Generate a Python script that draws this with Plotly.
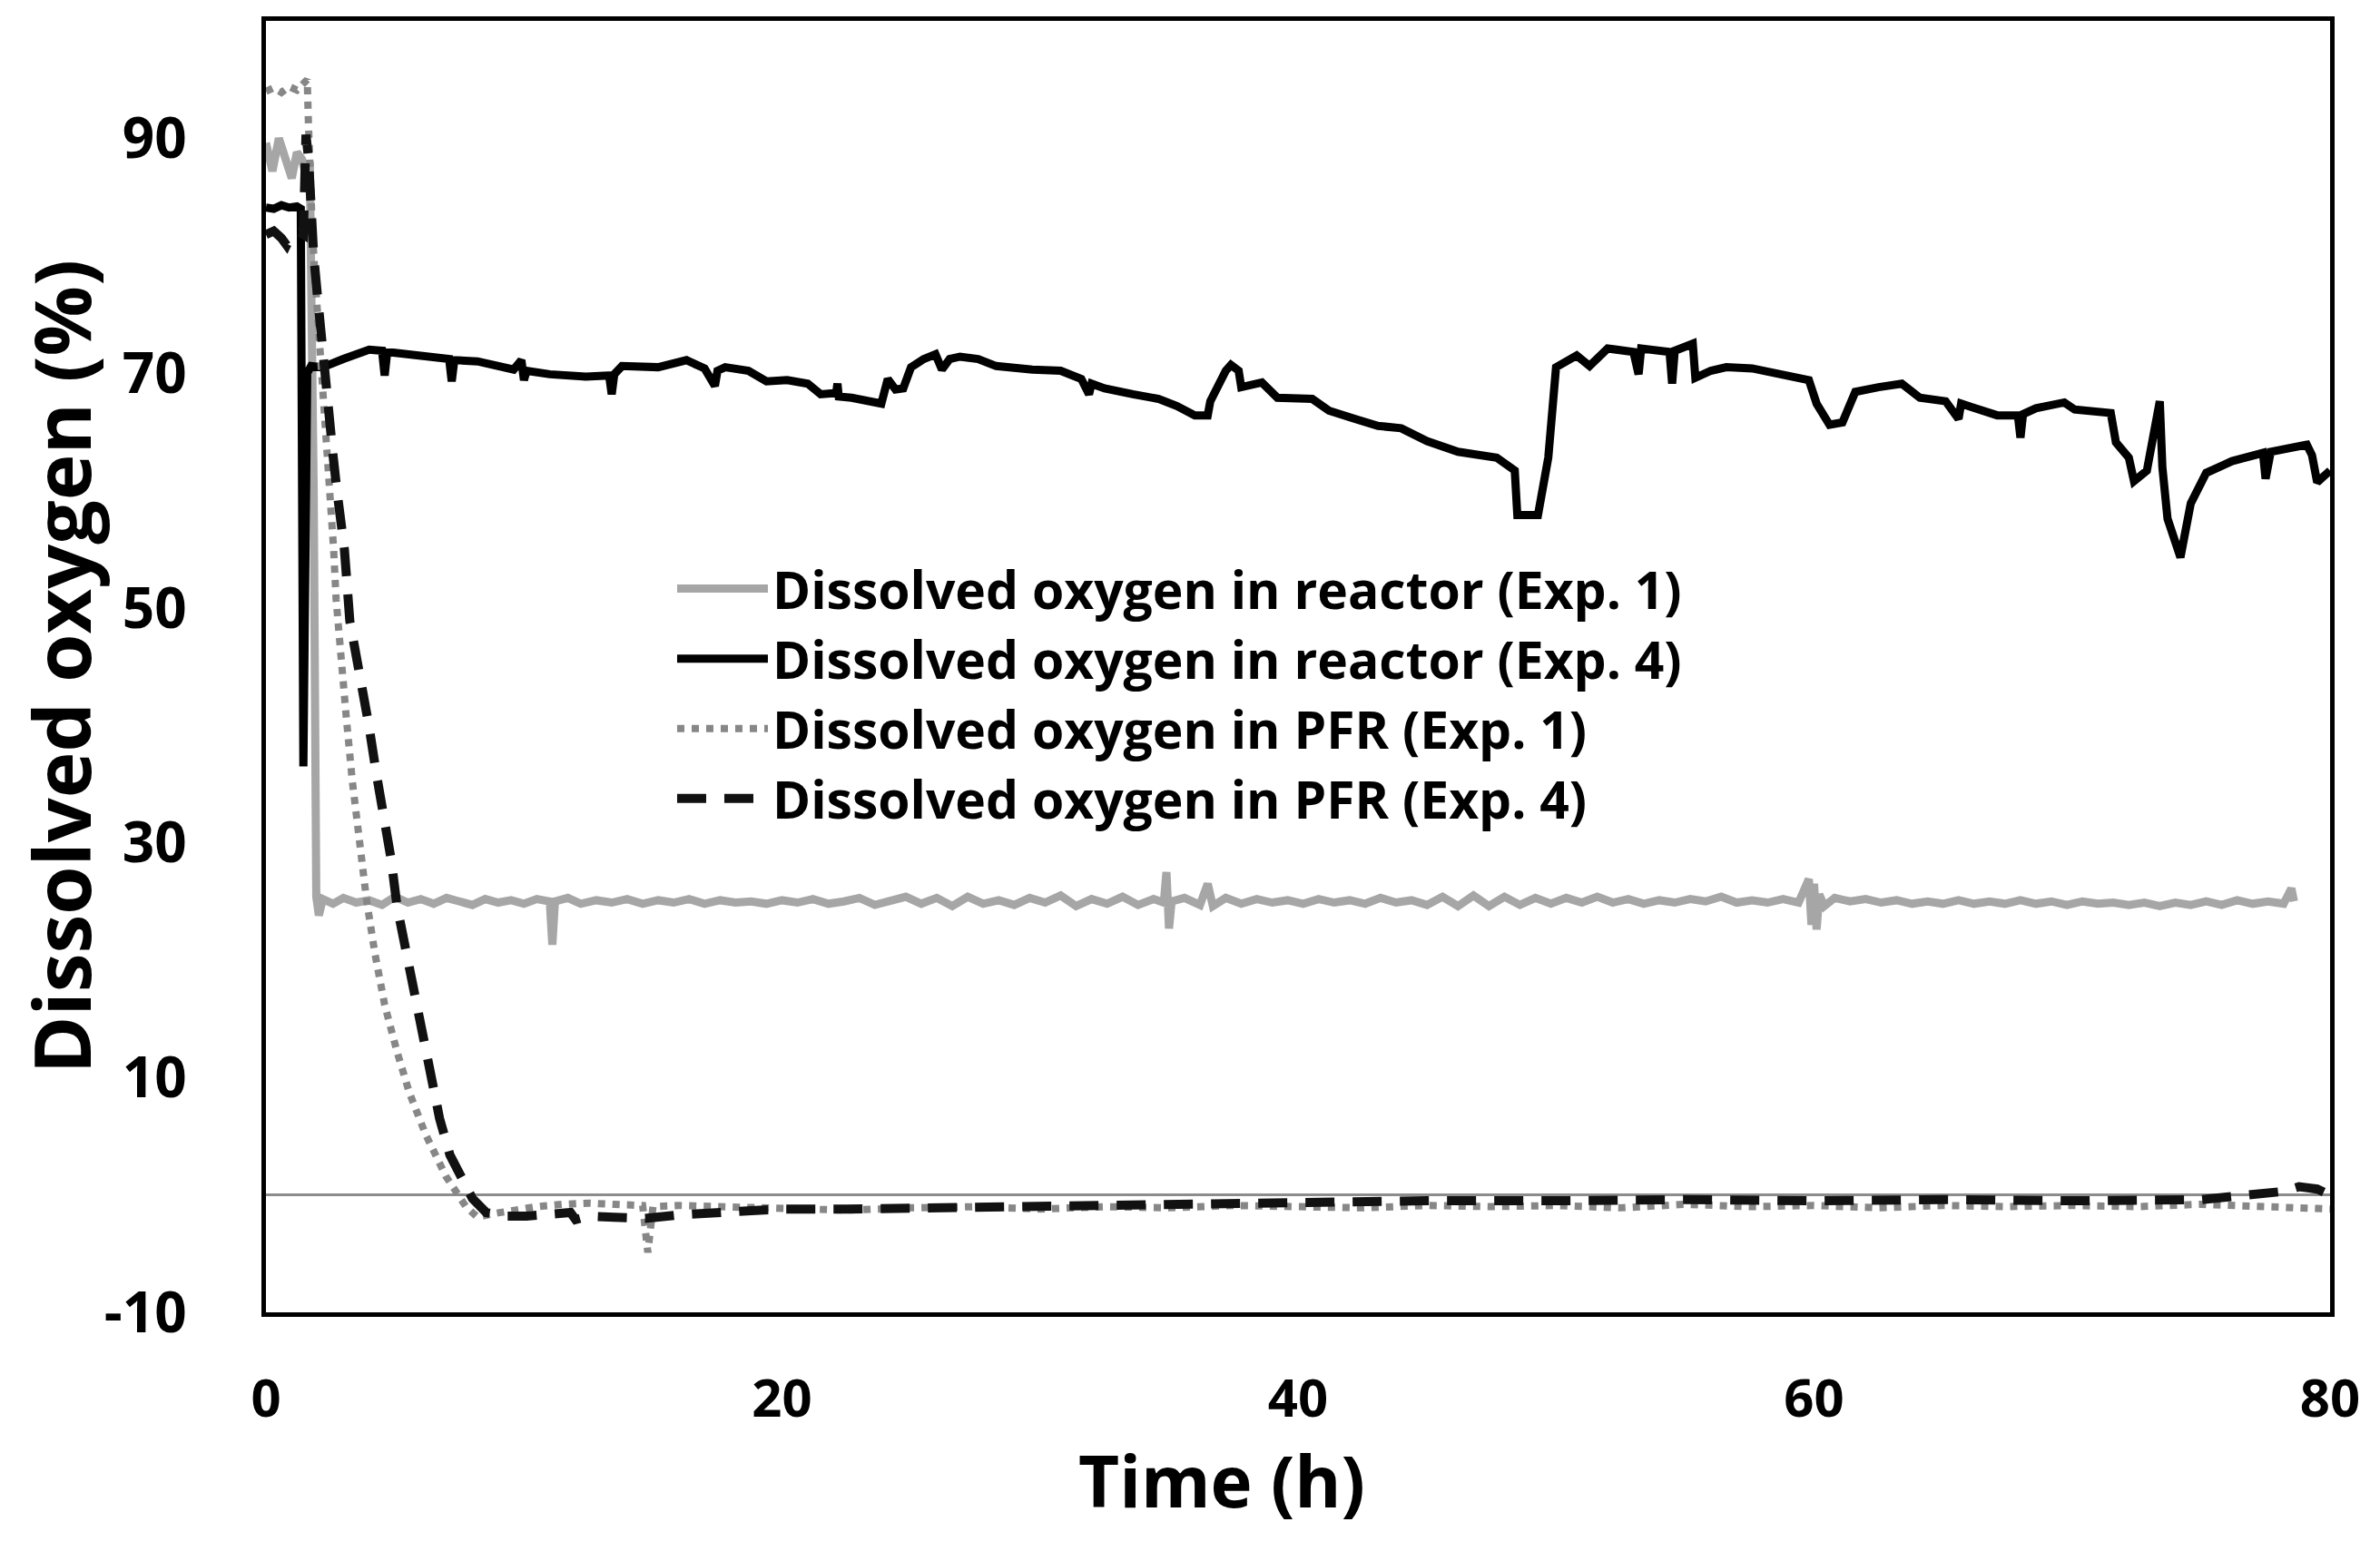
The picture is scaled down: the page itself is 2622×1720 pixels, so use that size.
import plotly.graph_objects as go

# ---------------- data ----------------
# Dissolved oxygen in reactor (Exp. 1)
r1_t = [0, 0.25, 0.5, 0.75, 1.0, 1.2, 1.4, 1.55, 1.7, 1.85, 1.95, 2.05, 2.2, 2.6, 3.0, 3.5, 4.0, 4.5,
        5.0, 5.5, 6.0, 6.5, 7.0, 7.5, 8.0, 8.5, 9.0, 9.5, 10.0, 10.5, 11.0, 11.1, 11.2, 11.7, 12.2,
        12.8, 13.4, 14.0, 14.6, 15.2, 15.8, 16.4, 17.0, 17.6, 18.2, 18.8, 19.4, 20.0, 20.6, 21.2,
        21.8, 22.4, 23.0, 23.6, 24.2, 24.8, 25.4, 26.0, 26.6, 27.2, 27.8, 28.4, 29.0, 29.6, 30.2,
        30.8, 31.4, 32.0, 32.6, 33.2, 33.8, 34.4, 34.8, 34.9, 35.0, 35.1, 35.6, 36.2, 36.5, 36.7,
        37.2, 37.8, 38.4, 39.0, 39.6, 40.2, 40.8, 41.4, 42.0, 42.6, 43.2, 43.8, 44.4, 45.0, 45.6,
        46.2, 46.8, 47.4, 48.0, 48.6, 49.2, 49.8, 50.4, 51.0, 51.6, 52.2, 52.8, 53.4, 54.0, 54.6,
        55.2, 55.8, 56.4, 57.0, 57.6, 58.2, 58.8, 59.4, 59.8, 59.9, 60.0, 60.1, 60.2, 60.4, 60.8,
        61.4, 62.0, 62.6, 63.2, 63.8, 64.4, 65.0, 65.6, 66.2, 66.8, 67.4, 68.0, 68.6, 69.2, 69.8,
        70.4, 71.0, 71.6, 72.2, 72.8, 73.4, 74.0, 74.6, 75.2, 75.8, 76.4, 77.0, 77.6, 78.2, 78.5,
        78.6]
r1_v = [89.6, 87.2, 90.0, 88.3, 86.6, 88.8, 88.2, 86.8, 88.0, 60.0, 25.4, 23.8, 25.2, 24.8, 25.3,
        24.9, 25.1, 24.7, 25.4, 24.9, 25.2, 24.8, 25.3, 25.0, 24.7, 25.2, 24.9, 25.1, 24.8, 25.2,
        25.0, 21.3, 25.0, 25.3, 24.8, 25.1, 24.9, 25.2, 24.8, 25.1, 24.9, 25.2, 24.8, 25.1, 24.9,
        25.0, 24.8, 25.1, 24.9, 25.2, 24.8, 25.0, 25.3, 24.7, 25.1, 25.4, 24.8, 25.3, 24.6, 25.4,
        24.8, 25.1, 24.7, 25.3, 24.9, 25.5, 24.6, 25.2, 24.8, 25.4, 24.7, 25.2, 24.9, 27.5, 22.7,
        25.0, 25.3, 24.7, 26.5, 24.6, 25.3, 24.8, 25.2, 24.9, 25.1, 24.8, 25.2, 24.9, 25.1, 24.8,
        25.3, 24.9, 25.1, 24.7, 25.4, 24.6, 25.5, 24.6, 25.4, 24.7, 25.3, 24.8, 25.3, 24.9, 25.4,
        24.9, 25.2, 24.8, 25.1, 24.9, 25.2, 25.0, 25.4, 24.9, 25.1, 24.9, 25.2, 24.9, 26.9, 23.0,
        26.5, 22.6, 25.6, 24.6, 25.3, 25.0, 25.2, 24.9, 25.1, 24.8, 25.0, 24.8, 25.1, 24.8, 25.0,
        24.8, 25.1, 24.8, 25.0, 24.7, 25.0, 24.8, 24.9, 24.7, 24.9, 24.6, 24.9, 24.7, 25.0, 24.7,
        25.1, 24.8, 25.0, 24.8, 26.1, 25.0]

# Dissolved oxygen in reactor (Exp. 4)
r4_t = [0, 0.3, 0.6, 0.9, 1.2, 1.35, 1.45, 1.6, 1.75, 2.2, 3.0, 4.0, 4.5, 4.6, 4.7, 5.5, 6.5, 7.1,
        7.2, 7.3, 8.2, 9.0, 9.6, 9.9, 10.0, 10.1, 11.0, 12.4, 13.3, 13.4, 13.5, 13.8, 15.2, 16.3,
        17.0, 17.4, 17.5, 17.8, 18.7, 19.4, 20.2, 21.0, 21.5, 22.1, 22.15, 22.2, 22.7, 23.85, 24.1,
        24.4, 24.7, 25.0, 25.5, 25.95, 26.2, 26.5, 26.9, 27.6, 28.3, 29.7, 30.8, 31.6, 31.9, 32.0,
        32.5, 33.6, 34.6, 35.3, 36.0, 36.5, 36.6, 37.2, 37.4, 37.7, 37.8, 38.6, 39.2, 40.55, 41.2,
        42.2, 43.1, 44.0, 45.0, 46.2, 47.7, 48.4, 48.5, 49.3, 49.7, 50.0, 50.8, 51.3, 52.0, 53.0,
        53.2, 53.3, 54.4, 54.5, 54.6, 55.3, 55.4, 56.0, 56.6, 57.6, 58.5, 59.8, 60.1, 60.6, 61.1,
        61.6, 62.5, 63.4, 64.1, 65.1, 65.6, 65.7, 66.1, 67.1, 67.9, 68.0, 68.1, 68.6, 69.7, 70.1,
        71.5, 71.7, 72.2, 72.4, 72.9, 73.2, 73.4, 73.5, 73.7, 74.2, 74.6, 75.2, 76.2, 77.4, 77.5,
        77.7, 79.1, 79.3, 79.5, 80.0]
r4_v = [84.1, 84.0, 84.3, 84.1, 84.2, 84.0, 36.5, 70.0, 70.6, 70.5, 71.2, 72.0, 71.9, 69.8, 71.8,
        71.6, 71.4, 71.2, 69.3, 71.1, 71.0, 70.6, 70.3, 71.1, 69.4, 70.2, 69.9, 69.7, 69.8, 68.2,
        69.9, 70.6, 70.5, 71.1, 70.4, 68.9, 70.2, 70.5, 70.2, 69.3, 69.4, 69.1, 68.2, 68.3, 69.1,
        68.0, 67.9, 67.4, 69.5, 68.6, 68.7, 70.5, 71.2, 71.6, 70.3, 71.2, 71.4, 71.2, 70.6, 70.3,
        70.2, 69.5, 68.2, 69.1, 68.7, 68.2, 67.8, 67.2, 66.4, 66.4, 67.6, 70.2, 70.7, 70.2, 68.8,
        69.2, 67.9, 67.8, 66.8, 66.1, 65.5, 65.3, 64.2, 63.3, 62.8, 61.7, 57.9, 57.9, 62.8, 70.5,
        71.5, 70.6, 72.1, 71.8, 69.9, 72.1, 71.8, 69.1, 71.9, 72.5, 69.6, 70.2, 70.5, 70.4, 70.0,
        69.4, 67.4, 65.6, 65.8, 68.4, 68.8, 69.1, 67.9, 67.6, 66.1, 67.4, 67.1, 66.4, 66.4, 64.5,
        66.5, 67.0, 67.5, 66.9, 66.6, 64.1, 62.8, 60.8, 61.7, 65.6, 67.6, 62.0, 57.6, 54.3, 58.9,
        61.5, 62.5, 63.2, 61.0, 63.3, 63.9, 63.0, 60.7, 61.7]

# Dissolved oxygen in PFR (Exp. 1)
p1_t = [0, 0.3, 0.6, 0.9, 1.2, 1.45, 1.6, 1.65, 1.7, 1.75, 1.8, 1.9, 2.0, 2.1, 2.2, 2.3, 2.38,
        2.45, 2.55, 2.62, 2.72, 2.88, 3.12, 3.35, 3.59, 3.9, 4.22, 4.6, 5.08, 5.56, 6.18, 6.97,
        7.75, 8.2, 8.8, 9.5, 10.5, 11.5, 12.5, 13.5, 14.6, 14.8, 15.0, 16.0, 18.0, 20.0, 22.5,
        25.0, 27.5, 30.0, 32.5, 35.0, 37.5, 40.0, 42.5, 45.0, 47.5, 50.0, 52.5, 55.0, 57.5, 60.0,
        62.5, 65.0, 67.5, 70.0, 72.5, 75.0, 77.5, 80.0]
p1_v = [94.0, 94.3, 93.9, 94.4, 94.1, 94.6, 95.0, 91.0, 87.0, 84.0, 82.0, 78.3, 75.3, 72.1, 68.8,
        66.5, 63.2, 60.3, 58.0, 55.1, 50.7, 46.2, 40.5, 35.2, 30.3, 25.1, 20.6, 16.2, 12.2, 8.7,
        5.2, 1.6, -1.0, -1.9, -1.6, -1.3, -1.0, -0.8, -0.7, -0.8, -0.9, -4.9, -1.0, -0.9, -1.0,
        -1.2, -1.3, -1.1, -1.0, -1.2, -1.0, -1.1, -0.9, -1.0, -1.1, -0.9, -1.0, -0.9, -1.1, -0.8,
        -1.0, -0.9, -1.1, -0.9, -1.0, -0.9, -1.0, -0.8, -1.0, -1.2]

# Dissolved oxygen in PFR (Exp. 4)
p4_t = [0, 0.3, 0.6, 0.8, 1.0, 1.3, 1.45, 1.55, 1.65, 1.7, 1.75, 1.85, 2.0, 2.1, 2.25, 2.45, 2.6,
        2.75, 2.9, 3.04, 3.25, 3.67, 3.98, 4.3, 4.6, 4.85, 5.08, 5.4, 5.7, 6.02, 6.33, 6.73, 7.13,
        7.6, 8.0, 8.54, 9.3, 10.1, 11.0, 11.8, 12.0, 12.5, 13.5, 14.7, 16.0, 18.0, 20.0, 22.5,
        25.4, 28.0, 30.8, 33.5, 36.2, 40.7, 45.0, 50.0, 55.0, 60.0, 65.0, 70.0, 75.0, 78.2, 78.8,
        79.5, 80.0]
p4_v = [81.8, 82.1, 81.5, 80.9, 81.8, 82.0, 81.8, 90.3, 88.3, 86.0, 83.5, 80.0, 76.5, 74.0, 70.0,
        66.0, 63.0, 60.0, 57.4, 55.0, 48.9, 44.0, 40.1, 35.6, 32.1, 28.6, 24.6, 21.1, 17.1, 13.6,
        10.0, 6.5, 3.4, 1.2, -0.3, -1.5, -1.8, -1.8, -1.6, -1.5, -2.1, -1.8, -1.9, -2.0, -1.7,
        -1.5, -1.2, -1.2, -1.1, -1.0, -0.9, -0.8, -0.7, -0.6, -0.5, -0.5, -0.4, -0.5, -0.4, -0.5,
        -0.4, 0.3, 0.7, 0.5, 0.0]

names = ["Dissolved oxygen in reactor (Exp. 1)",
         "Dissolved oxygen in reactor (Exp. 4)",
         "Dissolved oxygen in PFR (Exp. 1)",
         "Dissolved oxygen in PFR (Exp. 4)"]

x_ticks = [0, 20, 40, 60, 80]
y_ticks = [-10, 10, 30, 50, 70, 90]
x_title = "Time (h)"
y_title = "Dissolved oxygen (%)"

# ---------------- figure ----------------
fig = go.Figure()
fig.add_trace(go.Scatter(x=r1_t, y=r1_v, mode="lines", name=names[0], legendgroup="a",
                         line=dict(color="#a6a6a6", width=9)))
fig.add_trace(go.Scatter(x=r4_t, y=r4_v, mode="lines", name=names[1], legendgroup="b",
                         line=dict(color="#000000", width=9)))
fig.add_trace(go.Scatter(x=p1_t, y=p1_v, mode="lines", name=names[2], legendgroup="c",
                         line=dict(color="#878787", width=8, dash="dot")))
fig.add_trace(go.Scatter(x=p4_t, y=p4_v, mode="lines", name=names[3], legendgroup="d",
                         line=dict(color="#111111", width=10, dash="32px,20px")))

fig.update_layout(
    width=2622, height=1720,
    paper_bgcolor="white", plot_bgcolor="white",
    margin=dict(l=285, r=63, t=15, b=282),
    font=dict(family="Open Sans", color="black"),
    showlegend=True,
    legend=dict(x=0.197, y=0.591, xanchor="left", yanchor="top",
                bgcolor="rgba(0,0,0,0)", borderwidth=0,
                font=dict(family="Open Sans", size=57, color="black", weight="bold"),
                itemwidth=100, tracegroupgap=4, traceorder="normal"),
    annotations=[dict(text=x_title, xref="paper", yref="paper", x=0.463, y=-0.13,
                      xanchor="center", yanchor="middle", showarrow=False,
                      font=dict(family="Open Sans", size=78, weight="bold", color="black"))],
)

fig.update_xaxes(
    range=[0, 80], tickvals=x_ticks, ticktext=[str(v) for v in x_ticks],
    showline=True, linewidth=5, linecolor="black", mirror=True,
    showgrid=False, zeroline=False, ticks="", automargin=False,
    ticklabelstandoff=40,
    tickfont=dict(family="Open Sans", size=58, weight="bold"),
)
fig.update_yaxes(
    range=[-10, 100], tickvals=y_ticks, ticktext=[str(v) for v in y_ticks],
    showline=True, linewidth=5, linecolor="black", mirror=True,
    showgrid=False, zeroline=True, zerolinecolor="#8c8c8c", zerolinewidth=3, ticks="",
    automargin=False,
    ticklabelstandoff=70,
    tickfont=dict(family="Open Sans", size=62, weight="bold"),
    title=dict(text=y_title, standoff=30,
               font=dict(family="Open Sans", size=86, weight="bold")),
)

fig.write_html("out.html")
